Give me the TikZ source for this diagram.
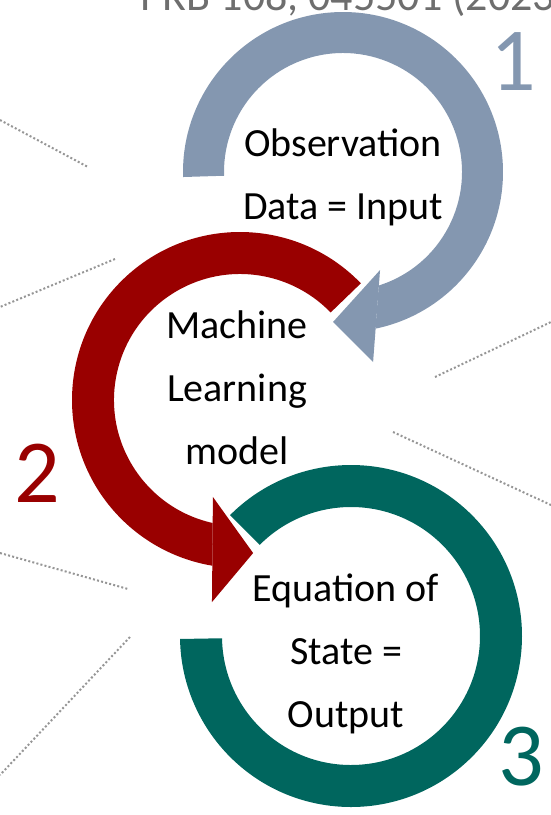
\documentclass[tikz,border=0pt]{standalone}
\usepackage{fontspec}
\setmainfont{Carlito}
\definecolor{CycleSlate}{RGB}{132,151,176}
\definecolor{CycleRed}{RGB}{153,0,0}
\definecolor{CycleTeal}{RGB}{0,102,94}
\definecolor{CycleGrey}{RGB}{110,110,110}
\definecolor{CycleDots}{RGB}{150,150,150}

\begin{document}
\begin{tikzpicture}[
    x=1pt, y=1pt,
    % Define styles for the elements
    step label/.style={
        font=\fontsize{40}{63}\selectfont,
        align=center,
        inner sep=0pt,
        text=black
    },
    step number/.style={
        font=\fontsize{90}{90}\selectfont,
        anchor=base,
        inner sep=0pt,
        text=#1
    },
    guide line/.style={
        draw=CycleDots,
        line width=2pt,
        dash pattern=on 2pt off 2.2pt
    }
]
    % Page frame
    \useasboundingbox (0,0) rectangle (551,-815);
    \clip (0,0) rectangle (551,-815);

    % Centres of the three rings
    \coordinate (c1) at (343,-172);
    \coordinate (c2) at (240,-400);
    \coordinate (c3) at (351,-636);

    % --- Dotted guide lines in the background ---
    \draw[guide line] (0,-120) -- (88,-167);
    \draw[guide line] (115,-259) -- (0,-307);
    \draw[guide line] (435,-377) -- (551,-322);
    \draw[guide line] (393,-432) -- (551,-505);
    \draw[guide line] (0,-553) -- (128,-589);
    \draw[guide line] (130,-637) -- (0,-775);

    % Reference line, cut by the top edge
    \node[anchor=base west, inner sep=0pt, text=CycleGrey,
          font=\fontsize{44}{44}\selectfont] (ref) at (140,-10) {PRB 108, 045501 (2023)};

    % --- Ring 1: observation data ---
    \begin{scope}[shift={(c1)}]
        \fill[CycleSlate] (181.8:160) arc[start angle=181.8, end angle=-78.3, radius=160]
            -- (-72.5:119) arc[start angle=-72.5, end angle=181.8, radius=119] -- cycle;
        % arrow head
        \fill[CycleSlate] (-69.3:104.8) -- (-93.8:150.3) -- (-81:192.4) -- cycle;
    \end{scope}

    % --- Ring 2: machine learning model ---
    \begin{scope}[shift={(c2)}]
        \fill[CycleRed] (44:168) arc[start angle=44, end angle=260.5, radius=168]
            -- (257.5:126) arc[start angle=257.5, end angle=44, radius=126] -- cycle;
        % arrow head
        \fill[CycleRed] (254.4:100.7) -- (274.9:153.6) -- (262.1:204) -- cycle;
    \end{scope}

    % --- Ring 3: equation of state ---
    \begin{scope}[shift={(c3)}]
        \fill[CycleTeal] (135:171) arc[start angle=135, end angle=-179, radius=171]
            -- (-179:129) arc[start angle=-179, end angle=135, radius=129] -- cycle;
    \end{scope}

    % Labels inside the rings
    \node[step label] (obs) at (343,-177.5) {Observation\\Data = Input};
    \node[step label] (mlm) at (237,-388) {Machine\\Learning\\model};
    \node[step label] (eos) at (346,-653.5) {Equation of\\State =\\Output};

    % Step numbers
    \node[step number=CycleSlate] (n1) at (513,-90) {1};
    \node[step number=CycleRed] (n2) at (37,-502) {2};
    \node[step number=CycleTeal] (n3) at (521,-785) {3};

\end{tikzpicture}
\end{document}
